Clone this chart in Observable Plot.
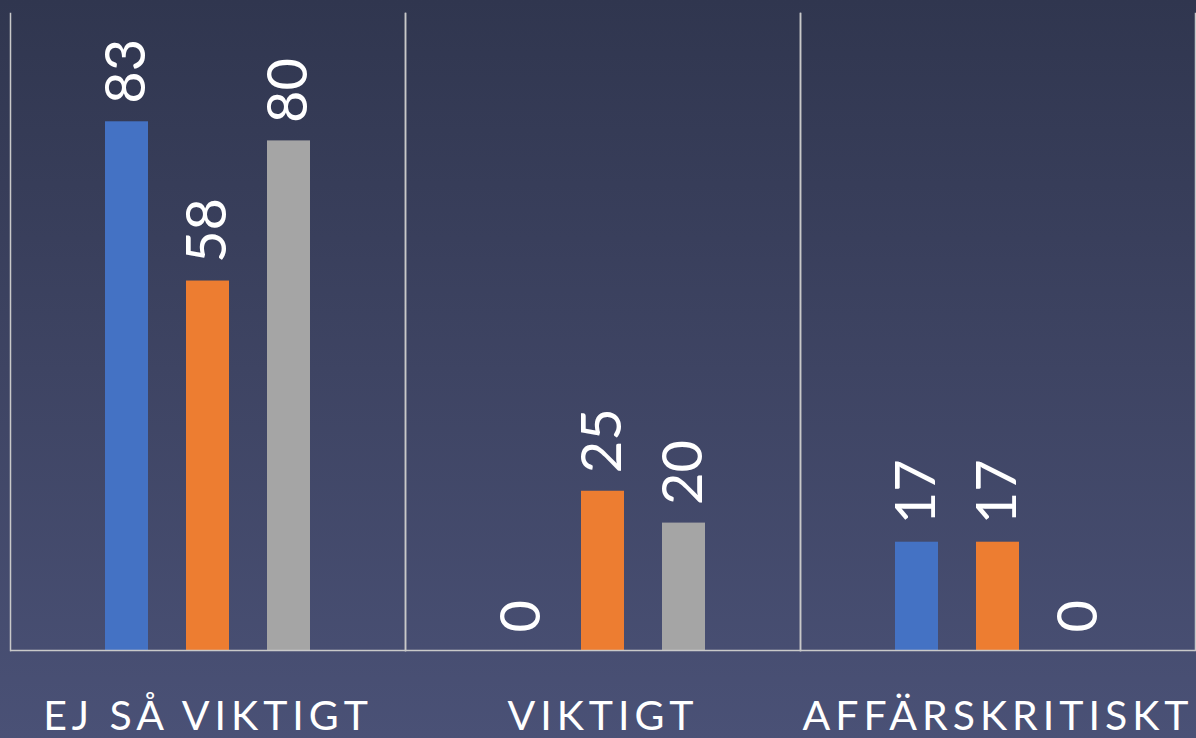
<!DOCTYPE html>
<html>
<head>
<meta charset="utf-8">
<script src="https://cdn.jsdelivr.net/npm/d3@7"></script>
<script src="https://cdn.jsdelivr.net/npm/@observablehq/plot@0.6"></script>
<style>
  html, body { margin: 0; padding: 0; }
  body {
    width: 1196px; height: 738px; overflow: hidden;
    background: linear-gradient(to bottom, #30364f 0%, #3e4463 50%, #4a5176 100%);
  }
  g[aria-label="fx-axis tick label"] text { letter-spacing: 5px; }
</style>
</head>
<body>
<div id="chart"></div>
<script>
const categories = ["EJ SÅ VIKTIGT", "VIKTIGT", "AFFÄRSKRITISKT"];
const seriesNames = ["Serie 1", "Serie 2", "Serie 3"];
const serie1 = [83, 0, 17];
const serie2 = [58, 25, 17];
const serie3 = [80, 20, 0];
const seriesColors = ["#4472c4", "#ed7d31", "#a5a5a5"];

const allSeries = [serie1, serie2, serie3];
const data = [];
categories.forEach((c, i) => {
  seriesNames.forEach((s, j) => {
    data.push({category: c, series: s, value: allSeries[j][i]});
  });
});

const font = "Lato, 'Open Sans', sans-serif";

const chart = Plot.plot({
  width: 1196,
  height: 738,
  marginTop: 13,
  marginBottom: 88,
  marginLeft: 9,
  marginRight: 1,
  style: {background: "transparent", color: "white", fontFamily: font},
  fx: {domain: categories, padding: 0, label: null},
  x: {domain: seriesNames, paddingInner: 0.472, paddingOuter: 1.16, axis: null},
  y: {domain: [0, 100], axis: null},
  color: {domain: seriesNames, range: seriesColors},
  marks: [
    Plot.frame({anchor: "left", stroke: "#c9c9c9", strokeWidth: 1.5}),
    Plot.frame({anchor: "right", stroke: "#c9c9c9", strokeWidth: 1.5}),
    Plot.barY(data, {fx: "category", x: "series", y: "value", fill: "series"}),
    Plot.ruleY([0], {stroke: "#c9c9c9", strokeWidth: 1.5}),
    Plot.text(data, {
      fx: "category", x: "series", y: "value", text: d => String(d.value),
      rotate: -90, textAnchor: "start", lineAnchor: "middle",
      dy: -18, fill: "white", fontSize: 56, fontFamily: font
    }),
    Plot.axisFx({
      anchor: "bottom", tickSize: 0, tickPadding: 50, fontSize: 41,
      fill: "white", fontFamily: font, label: null
    })
  ]
});
document.getElementById("chart").appendChild(chart);
</script>
</body>
</html>
